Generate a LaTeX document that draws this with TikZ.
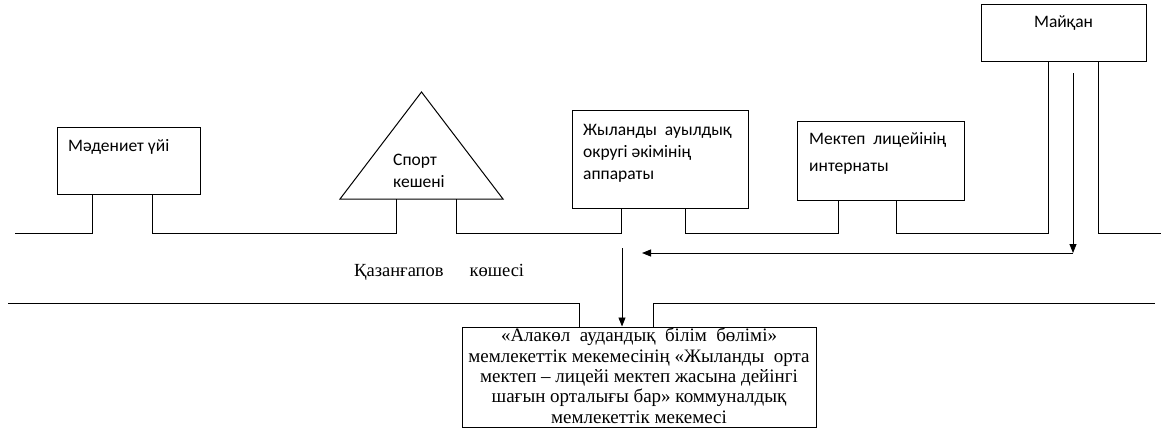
\documentclass[tikz,border=0pt]{standalone}
\usepackage{fontspec}
\setmainfont{Liberation Serif}
\newfontfamily\bldgfont{Carlito}
\usetikzlibrary{arrows.meta}
\tikzset{
  bldg/.style={draw, rectangle, inner sep=0pt, line width=1pt},
  bldglbl/.style={font=\bldgfont\fontsize{17.5}{22}\selectfont, align=left, inner sep=0pt},
  road/.style={line width=0.9pt},
  route/.style={line width=0.9pt, -{Triangle[length=9pt,width=7pt]}},
}
\begin{document}
\begin{tikzpicture}[x=1pt,y=-1pt]
  \useasboundingbox (0,0) rectangle (1161,429);

  \node (madeniet) [bldg, minimum width=143pt, minimum height=67pt] at (128.5,160.5) {};
  \node (zhylandy) [bldg, minimum width=176pt, minimum height=98pt] at (660,159) {};
  \node (mektep) [bldg, minimum width=167pt, minimum height=79pt] at (880.5,160.5) {};
  \node (maikan) [bldg, minimum width=165pt, minimum height=57pt] at (1063.5,32.5) {};
  \node (school) [bldg, minimum width=354pt, minimum height=100pt] at (639,377) {};

  \coordinate (sportA) at (340,199);
  \coordinate (sportB) at (503,199);
  \coordinate (sportT) at (421.5,92);
  \draw [line width=1pt, line join=miter] (sportA) -- (sportT) -- (sportB) -- cycle;

  \node (madenietlbl) [bldglbl, anchor=base west] at (68,151) {Мәдениет үйі};
  \node (sportlbl) [bldglbl, anchor=north west] at (393,154) {Спорт\\кешені};
  \node (zhylandylbl) [bldglbl, anchor=north west] at (583,124) {Жыланды\ \ ауылдық\\округі әкімінің\\аппараты};
  \node (mekteplbl) [bldglbl, anchor=north west] at (809,132) {Мектеп\ \ лицейінің\\[5pt]интернаты};
  \node (maikanlbl) [bldglbl, anchor=base] at (1063.5,27) {Майқан};
  \node (schoollbl) [font=\fontsize{19}{20.3}\selectfont, align=center, inner sep=0pt, anchor=north] at (639,328)
    {«Алакөл\ \ аудандық\ \ білім\ \ бөлімі»\\мемлекеттік мекемесінің «Жыланды\ \ орта\\мектеп – лицейі мектеп жасына дейінгі\\шағын орталығы бар» коммуналдық\\мемлекеттік мекемесі};
  \node (street) [font=\fontsize{18.5}{22}\selectfont, inner sep=0pt, anchor=base west] at (354,276) {Қазанғапов\hspace{26pt}көшесі};

  \coordinate (roadW) at (15,233);
  \coordinate (roadE) at (1161,233);
  \coordinate (madL) at ([xshift=36pt]madeniet.south west);
  \coordinate (madR) at ([xshift=96pt]madeniet.south west);
  \coordinate (spL) at ([xshift=56pt]sportA);
  \coordinate (spR) at ([xshift=116pt]sportA);
  \coordinate (zhL) at ([xshift=50pt]zhylandy.south west);
  \coordinate (zhR) at ([xshift=114pt]zhylandy.south west);
  \coordinate (mkL) at ([xshift=42pt]mektep.south west);
  \coordinate (mkR) at ([xshift=100pt]mektep.south west);
  \coordinate (mjL) at ([xshift=68pt]maikan.south west);
  \coordinate (mjR) at ([xshift=118pt]maikan.south west);

  \draw [road] (roadW) -| (madL);
  \draw [road] (madR) |- (spL |- roadW) -- (spL);
  \draw [road] (spR) |- (zhL |- roadW) -- (zhL);
  \draw [road] (zhR) |- (mkL |- roadW) -- (mkL);
  \draw [road] (mkR) |- (mjL |- roadW) -- (mjL);
  \draw [road] (mjR) |- (roadE);

  \coordinate (roadSW) at (8,303);
  \coordinate (roadSE) at (1155,303);
  \coordinate (schL) at ([xshift=118pt]school.north west);
  \coordinate (schR) at ([xshift=192pt]school.north west);
  \draw [road] (roadSW) -| (schL);
  \draw [road] (schR) |- (roadSE);

  \coordinate (mjOut) at (1073,73);
  \coordinate (mjTurn) at (1073,253);
  \coordinate (zhIn) at (642,253);
  \coordinate (schIn) at (622,248);
  \draw [route] (mjOut) -- (mjTurn);
  \draw [route] (mjTurn) -- (zhIn);
  \draw [route] (schIn) -- (schIn |- school.north);
\end{tikzpicture}
\end{document}
